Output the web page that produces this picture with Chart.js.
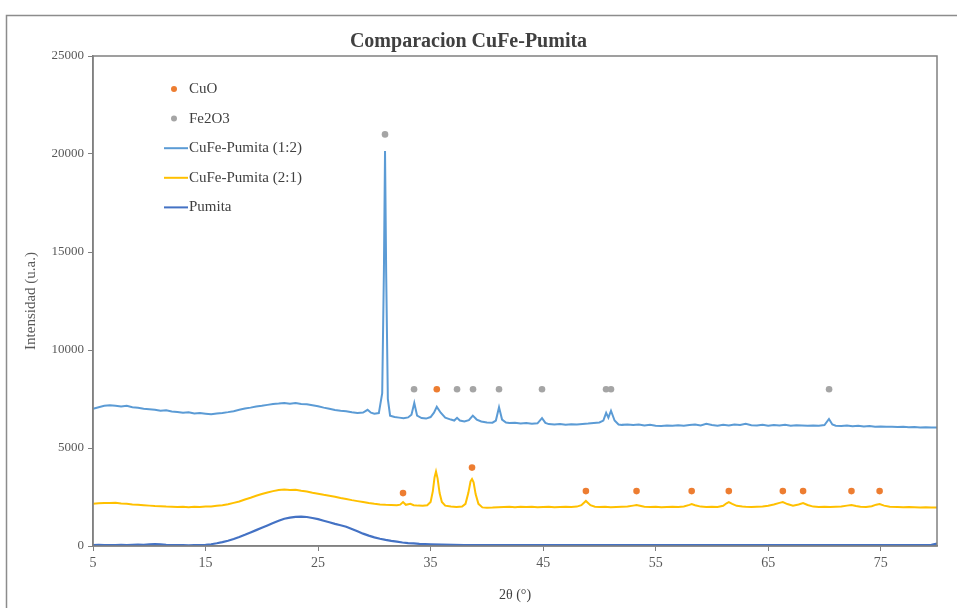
<!DOCTYPE html>
<html>
<head>
<meta charset="utf-8">
<script src="https://cdn.jsdelivr.net/npm/chart.js@4.4.1/dist/chart.umd.min.js"></script>
<style>
  html, body { margin: 0; padding: 0; background: #fff; }
  #wrap { position: relative; width: 957px; height: 608px; }
</style>
</head>
<body>
<div id="wrap"><canvas id="xrdChart" width="957" height="608"></canvas></div>
<script>
// [2θ, intensidad]
const cufe12 = [[5,7000],[5.5,7080],[6,7150],[6.5,7180],[7,7160],[7.5,7120],[8,7150],[8.5,7080],[9,7050],[9.5,7000],[10,6980],[10.5,6950],[11,6900],[11.5,6920],[12,6860],[12.5,6840],[13,6800],[13.5,6820],[14,6760],[14.5,6780],[15,6750],[15.5,6720],[16,6760],[16.5,6790],[17,6830],[17.5,6880],[18,6950],[18.5,7010],[19,7060],[19.5,7120],[20,7150],[20.5,7200],[21,7250],[21.5,7270],[22,7300],[22.5,7260],[23,7290],[23.5,7250],[24,7230],[24.5,7180],[25,7130],[25.5,7060],[26,7000],[26.5,6940],[27,6900],[27.5,6880],[28,6820],[28.5,6790],[29,6810],[29.4,6950],[29.7,6800],[30,6750],[30.4,6780],[30.7,7800],[30.85,14000],[30.95,20150],[31.05,14000],[31.2,7500],[31.4,6650],[31.8,6580],[32.2,6550],[32.6,6520],[33,6560],[33.3,6700],[33.55,7300],[33.8,6650],[34.2,6530],[34.6,6500],[35,6580],[35.3,6800],[35.55,7100],[35.9,6800],[36.3,6550],[36.8,6450],[37.1,6400],[37.35,6540],[37.6,6400],[38,6350],[38.4,6420],[38.75,6650],[39.1,6450],[39.5,6350],[40,6300],[40.5,6290],[40.8,6400],[41.08,7080],[41.35,6450],[41.7,6300],[42,6270],[42.5,6290],[43,6250],[43.5,6280],[44,6240],[44.5,6260],[44.9,6520],[45.2,6280],[45.5,6220],[46,6200],[46.5,6230],[47,6190],[47.5,6210],[48,6200],[48.5,6230],[49,6250],[49.5,6280],[50,6300],[50.35,6400],[50.6,6790],[50.8,6550],[51.03,6900],[51.35,6400],[51.7,6200],[52,6180],[52.5,6200],[53,6170],[53.5,6200],[54,6150],[54.5,6180],[55,6140],[55.5,6120],[56,6150],[56.5,6130],[57,6160],[57.5,6140],[58,6170],[58.5,6200],[59,6150],[59.5,6230],[60,6170],[60.5,6140],[61,6180],[61.5,6150],[62,6200],[62.5,6170],[63,6230],[63.5,6160],[64,6150],[64.5,6180],[65,6140],[65.5,6170],[66,6150],[66.5,6180],[67,6140],[67.5,6160],[68,6150],[68.5,6130],[69,6150],[69.5,6140],[70,6170],[70.4,6480],[70.7,6200],[71,6140],[71.5,6120],[72,6150],[72.5,6110],[73,6130],[73.5,6100],[74,6120],[74.5,6090],[75,6100],[75.5,6080],[76,6090],[76.5,6070],[77,6080],[77.5,6060],[78,6070],[78.5,6050],[79,6060],[79.5,6050],[80,6050]];

const cufe21 = [[5,2150],[5.5,2180],[6,2200],[6.5,2190],[7,2210],[7.5,2170],[8,2150],[8.5,2120],[9,2100],[9.5,2080],[10,2060],[10.5,2040],[11,2030],[11.5,2010],[12,2000],[12.5,1990],[13,2000],[13.5,1980],[14,2000],[14.5,1990],[15,2010],[15.5,2020],[16,2050],[16.5,2080],[17,2130],[17.5,2200],[18,2270],[18.5,2370],[19,2460],[19.5,2560],[20,2650],[20.5,2730],[21,2800],[21.5,2860],[22,2880],[22.5,2860],[23,2870],[23.5,2820],[24,2780],[24.5,2720],[25,2670],[25.5,2610],[26,2560],[26.5,2510],[27,2450],[27.5,2400],[28,2340],[28.5,2290],[29,2240],[29.5,2190],[30,2150],[30.5,2120],[31,2100],[31.5,2090],[32,2080],[32.3,2110],[32.55,2240],[32.8,2100],[33.2,2150],[33.5,2080],[33.9,2060],[34.3,2050],[34.7,2080],[35.0,2250],[35.2,2800],[35.35,3500],[35.48,3800],[35.62,3450],[35.8,2700],[36.0,2250],[36.3,2060],[36.8,2010],[37.3,1990],[37.8,2010],[38.1,2150],[38.35,2700],[38.55,3300],[38.68,3420],[38.82,3250],[39.0,2650],[39.25,2150],[39.6,1970],[40,1950],[40.5,1960],[41,1980],[41.5,1990],[42,2000],[42.5,1980],[43,2000],[43.5,1990],[44,2000],[44.5,1980],[45,1990],[45.5,2000],[46,1980],[46.5,1990],[47,2000],[47.5,1990],[48,2010],[48.4,2080],[48.8,2300],[49.2,2080],[49.6,2000],[50,1990],[50.5,2000],[51,1980],[51.5,1990],[52,2000],[52.5,2010],[53,2060],[53.3,2090],[53.7,2040],[54,2000],[54.5,1990],[55,2000],[55.5,1980],[56,1990],[56.5,2000],[57,1990],[57.5,2020],[58,2100],[58.2,2140],[58.5,2080],[59,2010],[59.5,1990],[60,2000],[60.5,1990],[61,2050],[61.3,2180],[61.5,2240],[61.8,2150],[62.2,2050],[62.7,2010],[63,2000],[63.5,1990],[64,2000],[64.5,2010],[65,2050],[65.5,2120],[66,2200],[66.3,2240],[66.7,2140],[67.2,2060],[67.7,2120],[68.1,2190],[68.5,2090],[69,2010],[69.5,1990],[70,2000],[70.5,1990],[71,2000],[71.5,2010],[72,2060],[72.4,2090],[72.8,2040],[73.2,2000],[73.7,1990],[74.2,2030],[74.6,2110],[74.9,2140],[75.3,2060],[75.8,2000],[76.5,1990],[77,1980],[77.5,1990],[78,1980],[78.5,1970],[79,1980],[79.5,1970],[80,1970]];

const pumita = [[5,50],[5.5,60],[6,50],[6.5,40],[7,50],[7.5,60],[8,50],[8.5,60],[9,70],[9.5,60],[10,80],[10.5,100],[11,80],[11.5,60],[12,50],[12.5,40],[13,40],[13.5,30],[14,40],[14.5,50],[15,60],[15.5,90],[16,140],[16.5,200],[17,270],[17.5,360],[18,460],[18.5,570],[19,690],[19.5,810],[20,930],[20.5,1050],[21,1170],[21.5,1290],[22,1390],[22.5,1450],[23,1490],[23.5,1500],[24,1480],[24.5,1430],[25,1370],[25.5,1290],[26,1210],[26.5,1130],[27,1060],[27.5,980],[28,870],[28.5,750],[29,630],[29.5,530],[30,440],[30.5,370],[31,310],[31.5,260],[32,220],[32.5,180],[33,150],[33.5,130],[34,110],[35,90],[36,70],[37,60],[38,50],[40,50],[42,40],[44,50],[46,40],[48,50],[50,40],[52,50],[54,40],[56,50],[58,40],[60,50],[62,40],[64,50],[66,40],[68,50],[70,40],[72,50],[74,40],[76,50],[78,40],[79.5,60],[80,120]];

const cuoPeaks = [[32.55,2700],[35.55,8000],[38.68,4000],[48.8,2800],[53.3,2800],[58.2,2800],[61.5,2800],[66.3,2800],[68.1,2800],[72.4,2800],[74.9,2800]];
const fe2o3Peaks = [[30.95,21000],[33.53,8000],[37.35,8000],[38.77,8000],[41.08,8000],[44.9,8000],[50.59,8000],[51.03,8000],[70.41,8000]];

const xTicks = [5, 15, 25, 35, 45, 55, 65, 75];
const yTicks = [0, 5000, 10000, 15000, 20000, 25000];

document.addEventListener('DOMContentLoaded', function() {
    const ctx = document.getElementById('xrdChart').getContext('2d');
    const toPts = (arr) => arr.map(p => ({ x: p[0], y: p[1] }));
    const axisGray = '#808080';
    const textGray = '#595959';

    const framePlugin = {
        id: 'frame',
        beforeDraw(chart) {
            const c = chart.ctx;
            c.save();
            c.fillStyle = '#fff';
            c.fillRect(0, 0, chart.width, chart.height);
            c.strokeStyle = '#8c8c8c';
            c.lineWidth = 1.5;
            c.strokeRect(6.5, 15.5, 1000, 1000);
            c.restore();
        },
        afterDatasetsDraw(chart) {
            const a = chart.chartArea;
            const c = chart.ctx;
            c.save();
            c.strokeStyle = axisGray;
            c.lineWidth = 1.5;
            c.strokeRect(a.left, a.top, a.right - a.left, a.bottom - a.top);
            c.restore();
        }
    };

    const legendPlugin = {
        id: 'insideLegend',
        afterDraw(chart) {
            const c = chart.ctx;
            c.save();
            c.font = '15px "Liberation Serif", serif';
            c.textBaseline = 'middle';
            chart.data.datasets.forEach((ds, i) => {
                const y = 89 + i * 29.6;
                if (ds.showLine === false) {
                    c.fillStyle = ds.backgroundColor;
                    c.beginPath();
                    c.arc(174, y, 3, 0, Math.PI * 2);
                    c.fill();
                } else {
                    c.strokeStyle = ds.borderColor;
                    c.lineWidth = 2;
                    c.beginPath();
                    c.moveTo(164, y);
                    c.lineTo(188, y);
                    c.stroke();
                }
                c.fillStyle = '#404040';
                c.fillText(ds.label, 189, y);
            });
            c.restore();
        }
    };

    new Chart(ctx, {
        type: 'line',
        data: {
            datasets: [
                { label: 'CuO', data: toPts(cuoPeaks), showLine: false, backgroundColor: '#ED7D31', borderColor: '#ED7D31', pointRadius: 3.3, pointBorderWidth: 0 },
                { label: 'Fe2O3', data: toPts(fe2o3Peaks), showLine: false, backgroundColor: '#A5A5A5', borderColor: '#A5A5A5', pointRadius: 3.3, pointBorderWidth: 0 },
                { label: 'CuFe-Pumita (1:2)', data: toPts(cufe12), borderColor: '#5B9BD5', borderWidth: 2, pointRadius: 0, tension: 0 },
                { label: 'CuFe-Pumita (2:1)', data: toPts(cufe21), borderColor: '#FFC000', borderWidth: 2, pointRadius: 0, tension: 0 },
                { label: 'Pumita', data: toPts(pumita), borderColor: '#4472C4', borderWidth: 2.2, pointRadius: 0, tension: 0 }
            ]
        },
        options: {
            responsive: false,
            animation: false,
            layout: { padding: { left: 0, right: 20, top: 0, bottom: 0 } },
            plugins: {
                legend: { display: false },
                tooltip: { enabled: false },
                title: {
                    display: true,
                    text: 'Comparacion CuFe-Pumita',
                    color: '#404040',
                    font: { family: '"Liberation Serif", serif', size: 20, weight: 'bold' },
                    padding: { top: 30, bottom: 2 }
                }
            },
            scales: {
                x: {
                    type: 'linear',
                    min: 5,
                    max: 80,
                    afterBuildTicks: (scale) => { scale.ticks = xTicks.map(v => ({ value: v })); },
                    afterFit: (scale) => { scale.height = 62; },
                    grid: { drawOnChartArea: false, drawTicks: true, tickLength: 5, color: axisGray },
                    border: { display: true, color: axisGray, width: 1.5 },
                    ticks: { color: textGray, font: { family: '"Liberation Serif", serif', size: 14 }, padding: 4, maxRotation: 0 },
                    title: { display: true, text: '2θ (°)', color: '#404040', font: { family: '"Liberation Serif", serif', size: 14 }, padding: { top: 0 } }
                },
                y: {
                    min: 0,
                    max: 25000,
                    afterBuildTicks: (scale) => { scale.ticks = yTicks.map(v => ({ value: v })); },
                    afterFit: (scale) => { scale.width = 93; },
                    grid: { drawOnChartArea: false, drawTicks: true, tickLength: 5, color: axisGray },
                    border: { display: true, color: axisGray, width: 1.5 },
                    ticks: { color: textGray, font: { family: '"Liberation Serif", serif', size: 13 }, padding: 4, callback: (v) => String(v) },
                    title: { display: true, text: 'Intensidad (u.a.)', color: textGray, font: { family: '"Liberation Serif", serif', size: 15 }, padding: { top: 22, bottom: 6 } }
                }
            }
        },
        plugins: [framePlugin, legendPlugin]
    });
});
</script>
</body>
</html>
